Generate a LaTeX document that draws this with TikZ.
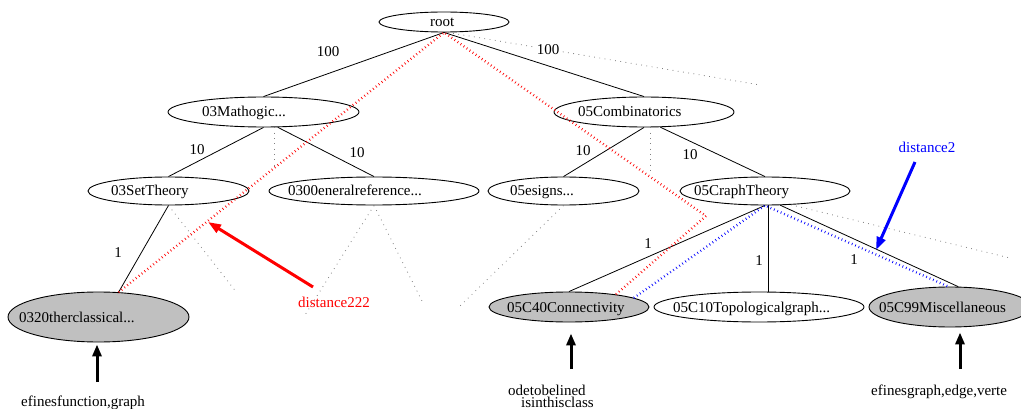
\documentclass[tikz,border=0pt]{standalone}
\usepackage{fontspec}
\setmainfont{Liberation Serif}
\usetikzlibrary{shapes.geometric,arrows.meta,calc}
\definecolor{leafgray}{RGB}{192,192,192}
\begin{document}
\begin{tikzpicture}[x=1pt,y=-1pt,
  ell/.style={draw, ellipse, inner sep=0pt, line width=0.9pt},
  leaf/.style={ell, fill=leafgray},
  txt/.style={anchor=base west, inner sep=0pt, font=\fontsize{15pt}{17pt}\selectfont},
  lbl/.style={inner sep=1pt, font=\fontsize{15pt}{17pt}\selectfont},
  edgeline/.style={draw, line width=0.8pt},
  ghost/.style={draw=gray, line width=0.8pt, dash pattern=on 0.8pt off 4.5pt},
  redpath/.style={draw=red, line width=2.4pt, dash pattern=on 0.7pt off 3pt},
  bluepath/.style={draw=blue, line width=2.4pt, dash pattern=on 0.7pt off 3pt},
  barrow/.style={draw, line width=3pt, -{Triangle[length=12pt,width=9pt]}},
  redarrow/.style={draw=red, line width=3pt, -{Triangle[length=13pt,width=9pt]}},
  bluearrow/.style={draw=blue, line width=3pt, -{Triangle[length=13pt,width=9pt]}}]
\useasboundingbox (0,0) rectangle (1021,409);

% ellipses
\node[ell, minimum width=130pt, minimum height=20pt] (root) at (444,22) {};
\node[ell, minimum width=191pt, minimum height=30pt] (m03) at (263.5,112) {};
\node[ell, minimum width=180pt, minimum height=30pt] (c05) at (644,112) {};
\node[ell, minimum width=161pt, minimum height=28pt] (set) at (168.5,191) {};
\node[ell, minimum width=210pt, minimum height=28pt] (ger) at (374,191) {};
\node[ell, minimum width=151pt, minimum height=28pt] (des) at (563.5,191) {};
\node[ell, minimum width=170pt, minimum height=28pt] (cgt) at (765,191) {};
\node[leaf, minimum width=181pt, minimum height=50pt] (oth) at (98.5,317) {};
\node[leaf, minimum width=160pt, minimum height=30pt] (c40) at (569,307) {};
\node[ell, minimum width=210pt, minimum height=30pt] (c10) at (759,307) {};
\node[leaf, minimum width=162pt, minimum height=40pt] (c99) at (950,307) {};

% texts
\node[txt] (root-t) at (430,27) {root};
\node[txt] (m03-t) at (202,117) {03Mathogic...};
\node[txt] (c05-t) at (578,117) {05Combinatorics};
\node[txt] (set-t) at (111,196) {03SetTheory};
\node[txt] (ger-t) at (288,196) {0300eneralreference...};
\node[txt] (des-t) at (510,196) {05esigns...};
\node[txt] (cgt-t) at (694,196) {05CraphTheory};
\node[txt] (oth-t) at (19,322) {0320therclassical...};
\node[txt] (c40-t) at (507,312) {05C40Connectivity};
\node[txt] (c10-t) at (673,312) {05C10Topologicalgraph...};
\node[txt] (c99-t) at (879,312) {05C99Miscellaneous};

% free coordinates
\coordinate (g1) at (760,85);
\coordinate (g2) at (274,168);
\coordinate (g3) at (237,293);
\coordinate (g4) at (305,315);
\coordinate (g5) at (423,303);
\coordinate (g6) at (460,306);
\coordinate (g7) at (650,173);
\coordinate (g8) at (1010,258);
\coordinate (rv) at (706,216);
\coordinate (ra) at (313,287);
\coordinate (rt) at (208,222);
\coordinate (ba) at (915,162);
\coordinate (bt) at (876,250);
\coordinate (a1) at (97,382);
\coordinate (a2) at (571,369);
\coordinate (a3) at (960,369);
\coordinate (cgtb) at ($(cgt.south)+(3,0)$);

% invisible-children dotted lines
\draw[ghost] (root.-70) -- (g1);
\draw[ghost] (m03.south -| g2) -- (g2);
\draw[ghost] (set.south) -- (g3);
\draw[ghost] (ger.south) -- (g4);
\draw[ghost] (ger.south) -- (g5);
\draw[ghost] (des.south) -- (g6);
\draw[ghost] (c05.south -| g7) -- (g7);
\draw[ghost] (cgt.-28) -- (g8);

% tree edges
\draw[edgeline] (root.south) -- (m03.north);
\draw[edgeline] (root.south) -- (c05.north);
\draw[edgeline] (m03.south) -- (set.north);
\draw[edgeline] (m03.-47) -- (ger.north);
\draw[edgeline] (c05.south) -- (des.north);
\draw[edgeline] (c05.-43) -- (cgt.north);
\draw[edgeline] (set.south) -- (oth.51);
\draw[edgeline] (cgt.south) -- (c40.north);
\draw[edgeline] (cgtb) -- (cgtb |- c10.north);
\draw[edgeline] (cgt.-43) -- (c99.68);

% distance paths
\draw[redpath] (oth.51) -- (root.south) -- (rv) -- (c40.15);
\draw[bluepath] (c40.8) -- (cgt.south) -- (c99.95);

% edge labels
\node[lbl] (l1) at (328,52) {100};
\node[lbl, fill=white] (l2) at (548,50) {100};
\node[lbl] (l3) at (197,150) {10};
\node[lbl] (l4) at (357,153) {10};
\node[lbl] (l5) at (583,151) {10};
\node[lbl] (l6) at (690,155) {10};
\node[lbl] (l7) at (118,253) {1};
\node[lbl] (l8) at (648,244) {1};
\node[lbl] (l9) at (759,261) {1};
\node[lbl] (l10) at (854,260) {1};

% distance labels and arrows
\node[lbl, text=red] (d222) at (334,302) {distance222};
\node[lbl, text=blue] (d2) at (927,147) {distance2};
\draw[redarrow] (ra) -- (rt);
\draw[bluearrow] (ba) -- (bt);

% bottom annotations
\draw[barrow, shorten >=2pt] (a1) -- (a1 |- oth.south);
\draw[barrow, shorten >=11pt] (a2) -- (a2 |- c40.south);
\draw[barrow, shorten >=5pt] (a3) -- (a3 |- c99.south);
\node[txt] (n1) at (21,406) {efinesfunction,graph};
\node[txt] (n2) at (508,395) {odetobelined};
\node[txt] (n3) at (521,407) {isinthisclass};
\node[txt] (n4) at (871,395) {efinesgraph,edge,verte};
\end{tikzpicture}
\end{document}
